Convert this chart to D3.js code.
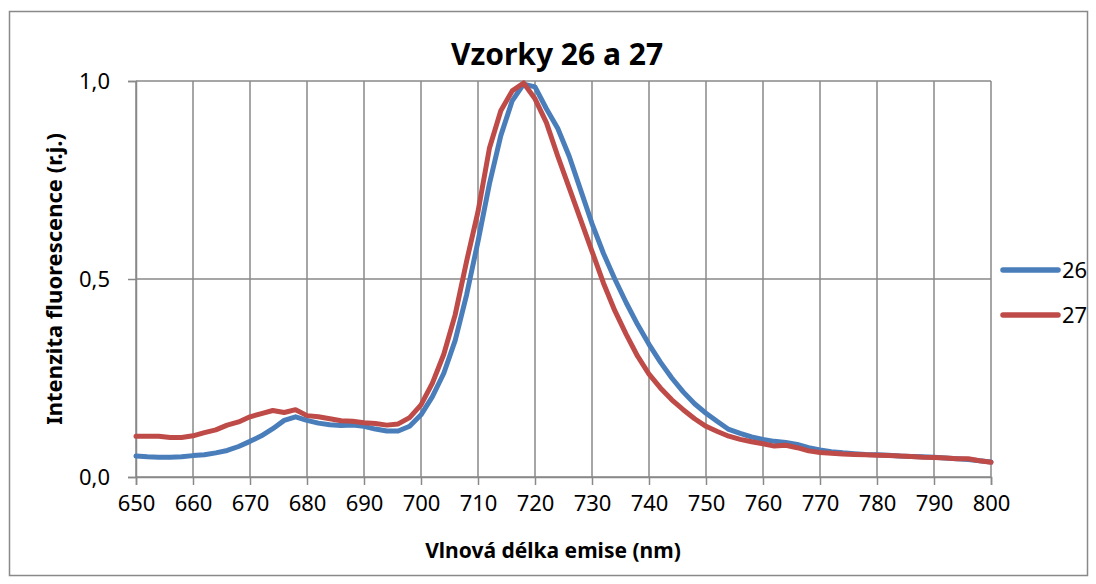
<!DOCTYPE html>
<html>
<head>
<meta charset="utf-8">
<script src="https://cdn.jsdelivr.net/npm/d3@7"></script>
<style>
  body { margin: 0; background: #fff; }
  svg text { font-family: 'Noto Sans', 'Open Sans', sans-serif; fill: #000; }
</style>
</head>
<body>
<div id="chart"></div>
<script>
// wavelength (nm), every 2 nm
var wavelengths = [650, 652, 654, 656, 658, 660, 662, 664, 666, 668, 670, 672, 674, 676, 678,
  680, 682, 684, 686, 688, 690, 692, 694, 696, 698, 700, 702, 704, 706, 708, 710, 712, 714,
  716, 718, 720, 722, 724, 726, 728, 730, 732, 734, 736, 738, 740, 742, 744, 746, 748, 750,
  752, 754, 756, 758, 760, 762, 764, 766, 768, 770, 772, 774, 776, 778, 780, 782, 784, 786,
  788, 790, 792, 794, 796, 798, 800];

var sample26 = [0.053, 0.051, 0.050, 0.050, 0.051, 0.054, 0.056, 0.061, 0.067, 0.077, 0.090,
  0.104, 0.122, 0.143, 0.152, 0.143, 0.136, 0.132, 0.130, 0.131, 0.128, 0.121, 0.116, 0.116,
  0.128, 0.157, 0.203, 0.262, 0.345, 0.460, 0.595, 0.740, 0.862, 0.950, 0.992, 0.985, 0.930,
  0.880, 0.810, 0.725, 0.640, 0.565, 0.500, 0.440, 0.385, 0.335, 0.290, 0.250, 0.215, 0.185,
  0.161, 0.140, 0.120, 0.110, 0.101, 0.095, 0.090, 0.087, 0.082, 0.074, 0.068, 0.064, 0.061,
  0.059, 0.057, 0.056, 0.055, 0.053, 0.052, 0.051, 0.050, 0.048, 0.046, 0.044, 0.041, 0.038];

var sample27 = [0.103, 0.103, 0.103, 0.100, 0.100, 0.104, 0.112, 0.119, 0.131, 0.139, 0.152,
  0.160, 0.168, 0.163, 0.170, 0.155, 0.152, 0.147, 0.142, 0.141, 0.137, 0.135, 0.131, 0.134,
  0.150, 0.182, 0.237, 0.310, 0.410, 0.545, 0.670, 0.830, 0.925, 0.975, 0.995, 0.955, 0.895,
  0.810, 0.730, 0.650, 0.570, 0.490, 0.420, 0.360, 0.305, 0.260, 0.225, 0.195, 0.170, 0.147,
  0.128, 0.115, 0.103, 0.095, 0.089, 0.084, 0.078, 0.080, 0.074, 0.066, 0.062, 0.060, 0.058,
  0.057, 0.056, 0.055, 0.054, 0.053, 0.052, 0.050, 0.049, 0.048, 0.046, 0.046, 0.041, 0.037];

var seriesNames = ['26', '27'];
var seriesColors = ['#4a7ebb', '#be4b48'];
var xTicks = d3.range(650, 801, 10);
var yTicks = [0, 0.5, 1.0];

var W = 1096, H = 584;
var plotL = 136, plotR = 991, plotT = 81, plotB = 477;
var gridColor = '#898989';

var locale = d3.formatLocale({ decimal: ',', thousands: ' ', grouping: [3], currency: ['', ''] });
var yFormat = locale.format('.1f');

var x = d3.scaleLinear().domain([650, 800]).range([plotL, plotR]);
var y = d3.scaleLinear().domain([0, 1]).range([plotB, plotT]);

var svg = d3.select('#chart')
  .append('svg')
    .attr('width', W)
    .attr('height', H);

// outer chart border
svg.append('rect')
  .attr('x', 9.5)
  .attr('y', 11.5)
  .attr('width', 1078)
  .attr('height', 564)
  .attr('fill', '#fff')
  .attr('stroke', gridColor)
  .attr('stroke-width', 1.5);

// vertical grid
svg.append('g')
  .selectAll('line')
  .data(xTicks)
  .enter().append('line')
    .attr('x1', function(d) { return x(d); })
    .attr('x2', function(d) { return x(d); })
    .attr('y1', plotT)
    .attr('y2', plotB)
    .attr('stroke', gridColor)
    .attr('stroke-width', 1.5);

// horizontal grid
svg.append('g')
  .selectAll('line')
  .data(yTicks)
  .enter().append('line')
    .attr('x1', plotL)
    .attr('x2', plotR)
    .attr('y1', function(d) { return y(d); })
    .attr('y2', function(d) { return y(d); })
    .attr('stroke', gridColor)
    .attr('stroke-width', 1.5);

var xAxis = d3.axisBottom(x)
  .tickValues(xTicks)
  .tickSize(8)
  .tickPadding(10)
  .tickFormat(d3.format('d'));

var gx = svg.append('g')
  .attr('transform', 'translate(0,' + plotB + ')')
  .call(xAxis);
gx.select('.domain').attr('stroke', gridColor).attr('stroke-width', 1.5);
gx.selectAll('.tick line').attr('stroke', gridColor).attr('stroke-width', 1.5);
gx.selectAll('.tick text').attr('font-size', 22).attr('fill', '#000');

var yAxis = d3.axisLeft(y)
  .tickValues(yTicks)
  .tickSize(8)
  .tickPadding(18)
  .tickFormat(yFormat);

var gy = svg.append('g')
  .attr('transform', 'translate(' + plotL + ',0)')
  .call(yAxis);
gy.select('.domain').attr('stroke', gridColor).attr('stroke-width', 1.5);
gy.selectAll('.tick line').attr('stroke', gridColor).attr('stroke-width', 1.5);
gy.selectAll('.tick text').attr('font-size', 22).attr('fill', '#000');

// series
var line = d3.line()
  .x(function(d, i) { return x(wavelengths[i]); })
  .y(function(d) { return y(d); });

[sample26, sample27].forEach(function(values, i) {
  svg.append('path')
    .datum(values)
    .attr('d', line)
    .attr('fill', 'none')
    .attr('stroke', seriesColors[i])
    .attr('stroke-width', 5)
    .attr('stroke-linejoin', 'round')
    .attr('stroke-linecap', 'round');
});

// title
svg.append('text')
  .attr('x', 557)
  .attr('y', 65)
  .attr('text-anchor', 'middle')
  .attr('font-size', 30)
  .attr('font-weight', 'bold')
  .text('Vzorky 26 a 27');

// axis titles
svg.append('text')
  .attr('x', 553)
  .attr('y', 558)
  .attr('text-anchor', 'middle')
  .attr('font-size', 21)
  .attr('font-weight', 'bold')
  .text('Vlnová délka emise (nm)');

svg.append('text')
  .attr('transform', 'translate(62,279) rotate(-90)')
  .attr('text-anchor', 'middle')
  .attr('font-size', 22)
  .attr('font-weight', 'bold')
  .text('Intenzita fluorescence (r.j.)');

// legend
var legend = svg.append('g')
  .selectAll('g')
  .data(seriesNames)
  .enter().append('g')
    .attr('transform', function(d, i) { return 'translate(1003,' + (270 + i * 45) + ')'; });

legend.append('line')
  .attr('x1', 0)
  .attr('x2', 55)
  .attr('stroke', function(d, i) { return seriesColors[i]; })
  .attr('stroke-width', 5.5)
  .attr('stroke-linecap', 'round');

legend.append('text')
  .attr('x', 59)
  .attr('y', 8)
  .attr('font-size', 22)
  .text(function(d) { return d; });
</script>
</body>
</html>
